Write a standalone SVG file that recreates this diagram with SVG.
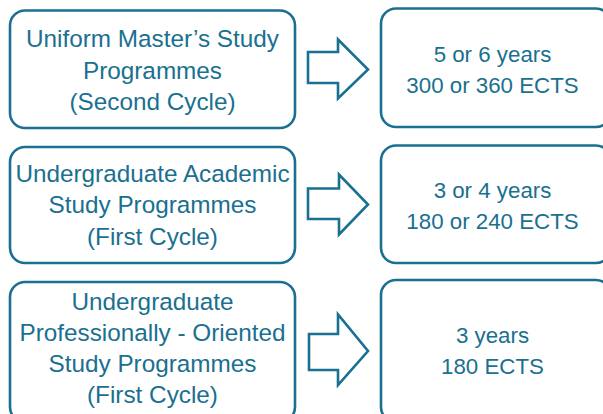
<svg xmlns="http://www.w3.org/2000/svg" width="603" height="414" viewBox="0 0 603 414">
<style>
.box{fill:#fff;stroke:#1a7090;stroke-width:2.6}
.arr{fill:#fff;stroke:#1a7090;stroke-width:2.6;stroke-linejoin:miter}
.t{font-family:"Liberation Sans",Arial,sans-serif;fill:#1a7090;text-anchor:middle}
.l{font-size:24.3px}
.r{font-size:22.3px}
</style>
<rect width="603" height="414" fill="#fff"/>
<g id="left1">
<rect class="box" x="10" y="10.5" width="285" height="117.5" rx="15"/>
<text class="t l" x="152.5" y="47">Uniform Master’s Study</text>
<text class="t l" x="152.5" y="79">Programmes</text>
<text class="t l" x="152.5" y="110">(Second Cycle)</text>
</g>
<g id="right1">
<rect class="box" x="381" y="8.5" width="230" height="118.5" rx="15"/>
<text class="t r" x="492.5" y="62">5 or 6 years</text>
<text class="t r" x="492.5" y="93">300 or 360 ECTS</text>
</g>
<g id="left2">
<rect class="box" x="10" y="147" width="285" height="116" rx="15"/>
<text class="t l" x="152.5" y="182">Undergraduate Academic</text>
<text class="t l" x="152.5" y="213">Study Programmes</text>
<text class="t l" x="152.5" y="245">(First Cycle)</text>
</g>
<g id="right2">
<rect class="box" x="381" y="145.5" width="230" height="117.5" rx="15"/>
<text class="t r" x="492.5" y="198">3 or 4 years</text>
<text class="t r" x="492.5" y="229">180 or 240 ECTS</text>
</g>
<g id="left3">
<rect class="box" x="10" y="282" width="285" height="140" rx="15"/>
<text class="t l" x="152.5" y="310">Undergraduate</text>
<text class="t l" x="152.5" y="341">Professionally - Oriented</text>
<text class="t l" x="152.5" y="372">Study Programmes</text>
<text class="t l" x="152.5" y="403">(First Cycle)</text>
</g>
<g id="right3">
<rect class="box" x="381" y="280" width="230" height="142" rx="15"/>
<text class="t r" x="492.5" y="343">3 years</text>
<text class="t r" x="492.5" y="374">180 ECTS</text>
</g>
<g id="connectors">
<polygon class="arr" points="308,52 338,52 338,39.5 368,69.5 338,98.5 338,83 308,83"/>
<polygon class="arr" points="308,188.5 339,188.5 339,174.5 368,204.5 339,234.5 339,219 308,219"/>
<polygon class="arr" points="309,334 338,334 338,314.5 368,351 338,385 338,370 309,370"/>
</g>
</svg>
